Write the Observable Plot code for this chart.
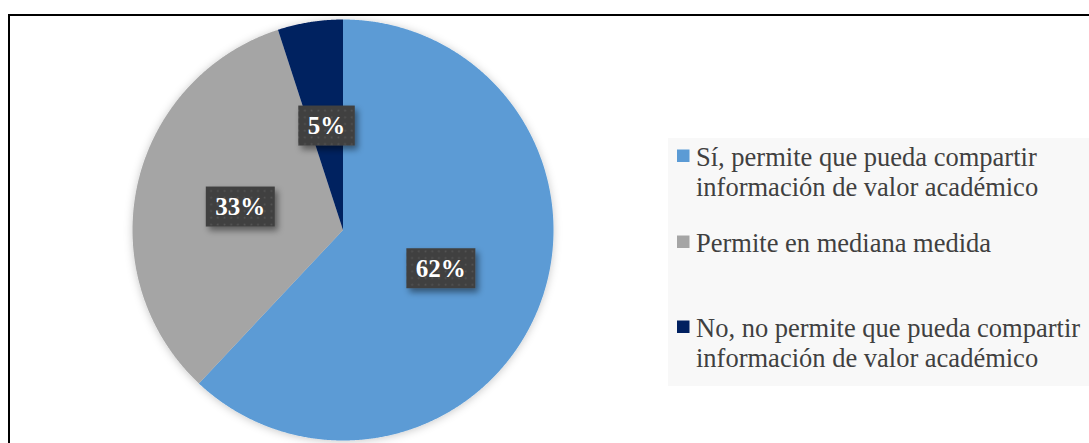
<!DOCTYPE html>
<html><head><meta charset="utf-8">
<script src="https://cdn.jsdelivr.net/npm/d3@7"></script>
<script src="https://cdn.jsdelivr.net/npm/@observablehq/plot@0.6"></script>
<style>
html,body{margin:0;padding:0;background:#fff;overflow:hidden;width:1089px;height:443px}
#wrap{position:relative;width:1089px;height:443px;overflow:hidden}
#frame{position:absolute;left:8px;top:14px;width:1200px;height:600px;border:2px solid #000;box-sizing:border-box;z-index:5;pointer-events:none}
#chart{position:absolute;left:0;top:0}
#legend{position:absolute;left:668px;top:138px;width:421px;height:248px;background:#f8f8f8}
#legend svg{display:block}
.serif, .serif text{font-family:"Liberation Serif","Times New Roman",serif !important}
</style>
</head><body>
<div id="wrap"><div id="chart"></div><div id="legend"></div><div id="frame"></div></div>
<script>
const categories = [
  "Sí, permite que pueda compartir información de valor académico",
  "Permite en mediana medida",
  "No, no permite que pueda compartir información de valor académico"
];
const values = [62, 33, 5];
const colors = ["#5B9BD5", "#A5A5A5", "#002060"];
const legendLines = [
  ["Sí, permite que pueda compartir", "información de valor académico"],
  ["Permite en mediana medida"],
  ["No, no permite que pueda compartir", "información de valor académico"]
];
const legendBaselines = [28, 114, 199];

const pie = d3.pie().sort(null).value(d => d)(values);
const polys = [];
pie.forEach((p, i) => {
  const n = Math.max(2, Math.ceil((p.endAngle - p.startAngle) / 0.005));
  polys.push({key: categories[i], x: 0, y: 0});
  for (let k = 0; k <= n; k++) {
    const a = p.startAngle + (p.endAngle - p.startAngle) * k / n;
    polys.push({key: categories[i], x: Math.sin(a), y: Math.cos(a)});
  }
  polys.push({key: categories[i], x: 0, y: 0});
});
const labels = pie.map((p, i) => {
  const a = (p.startAngle + p.endAngle) / 2;
  return {label: values[i] + "%", x: 0.5 * Math.sin(a), y: 0.5 * Math.cos(a)};
});

const chart = Plot.plot({
  width: 1089, height: 443, margin: 0,
  x: {domain: [-1, 1], range: [132, 553], axis: null},
  y: {domain: [-1, 1], range: [440, 19], axis: null},
  color: {domain: categories, range: colors},
  style: {background: "transparent", overflow: "visible"},
  marks: [
    Plot.line(polys, {x: "x", y: "y", z: "key", fill: "key", stroke: "none", curve: "linear"}),
    Plot.text(labels, {x: "x", y: "y", text: "label", fill: "white", fontSize: 25, fontWeight: "bold"})
  ]
});
document.getElementById("chart").appendChild(chart);

const svg = d3.select(chart);
const textG = svg.select('g[aria-label="text"]').classed("serif", true)
  .style("font-family", '"Liberation Serif", "Times New Roman", serif');
const defs = svg.insert("defs", ":first-child");
const pat = defs.append("pattern").attr("id", "dots").attr("width", 6.7).attr("height", 6.7).attr("patternUnits", "userSpaceOnUse");
pat.append("rect").attr("width", 6.7).attr("height", 6.7).attr("fill", "#404040");
pat.append("rect").attr("x", 2.6).attr("y", 2.6).attr("width", 1.6).attr("height", 1.6).attr("fill", "#565656");
const f1 = defs.append("filter").attr("id", "boxShadow").attr("x", "-30%").attr("y", "-30%").attr("width", "170%").attr("height", "170%");
f1.append("feDropShadow").attr("dx", 3).attr("dy", 4).attr("stdDeviation", 3).attr("flood-color", "#000").attr("flood-opacity", 0.45);
const f2 = defs.append("filter").attr("id", "pieShadow").attr("x", "-10%").attr("y", "-10%").attr("width", "120%").attr("height", "120%");
f2.append("feDropShadow").attr("dx", 0).attr("dy", 1).attr("stdDeviation", 4).attr("flood-color", "#000").attr("flood-opacity", 0.22);

svg.select('g[aria-label="line"]').attr("filter", "url(#pieShadow)");

const svgRect = chart.getBoundingClientRect();
const boxG = svg.insert("g", 'g[aria-label="text"]').attr("filter", "url(#boxShadow)");
textG.selectAll("text").each(function() {
  const r = this.getBoundingClientRect();
  const padX = 9.5, padY = 6.5;
  boxG.append("rect")
    .attr("x", r.left - svgRect.left - padX)
    .attr("y", r.top - svgRect.top - padY)
    .attr("width", r.width + 2 * padX)
    .attr("height", r.height + 2 * padY)
    .attr("fill", "url(#dots)");
});

// Legend
const lsvg = d3.select("#legend").append("svg").attr("width", 421).attr("height", 248).attr("class", "serif");
legendLines.forEach((lines, i) => {
  const b = legendBaselines[i];
  lsvg.append("rect").attr("x", 9).attr("y", b - 16.5).attr("width", 12.5).attr("height", 12.5).attr("fill", colors[i]);
  const t = lsvg.append("text").attr("x", 28).attr("y", b)
    .style("font-family", '"Liberation Serif", "Times New Roman", serif').attr("font-size", 26.5).attr("fill", "#404040");
  lines.forEach((ln, j) => t.append("tspan").attr("x", 28).attr("y", b + j * 29.5).text(ln));
});
</script>
</body></html>
